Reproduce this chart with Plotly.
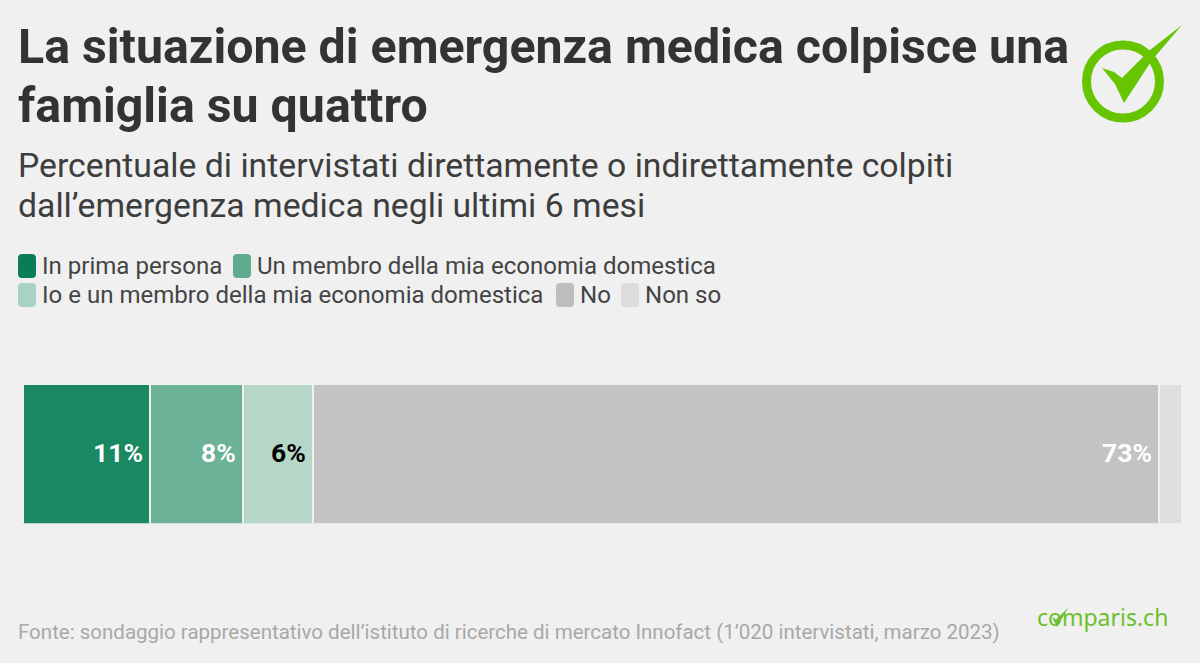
import plotly.graph_objects as go

W, H = 1200, 663
categories = ["In prima persona", "Un membro della mia economia domestica",
              "Io e un membro della mia economia domestica", "No", "Non so"]
values = [11, 8, 6, 73, 2]
bar_colors = ["#1a8860", "#6cb296", "#b6d6c8", "#c3c3c3", "#e0dfdf"]
swatch_colors = ["#0a7d55", "#5fab8e", "#a9d2c2", "#bdbdbd", "#dedddd"]
label_colors = ["#ffffff", "#ffffff", "#000000", "#ffffff", "#ffffff"]
labels = ["11%", "8%", "6%", "73%", ""]
BG = "#f0f0f0"
GREEN = "#66c400"


def px(x):
    return x / W


def py(y):
    return 1 - y / H


fig = go.Figure()
cum = 0
for c, v, col, lab, lc in zip(categories, values, bar_colors, labels, label_colors):
    fig.add_trace(go.Bar(
        y=["a"], x=[v], name=c, orientation="h",
        marker=dict(color=col, line=dict(color=BG, width=2)),
        hoverinfo="skip", showlegend=False,
    ))
    cum += v
    if lab:
        fig.add_annotation(x=cum, y="a", xref="x", yref="y", text=f"<b>{lab}</b>", showarrow=False,
                           xanchor="right", yanchor="middle", xshift=-6, yshift=1, borderpad=0,
                           font=dict(family="Roboto", size=26.5, color=lc))


def text(x, y, s, size, color, bold=False, family="Roboto", anchor="left"):
    fig.add_annotation(
        x=px(x), y=py(y), xref="paper", yref="paper", text=("<b>%s</b>" % s) if bold else s,
        showarrow=False, xanchor=anchor, yanchor="middle", align=anchor,
        font=dict(family=family, size=size, color=color), borderpad=0, borderwidth=0,
    )


text(18, 47, "La situazione di emergenza medica colpisce una", 48.3, "#333333", True)
text(18, 105, "famiglia su quattro", 48.3, "#333333", True)
text(18, 165, "Percentuale di intervistati direttamente o indirettamente colpiti", 33.75, "#3d3d3d")
text(18, 205, "dall’emergenza medica negli ultimi 6 mesi", 33.75, "#3d3d3d")
text(18, 632, "Fonte: sondaggio rappresentativo dell’istituto di ricerche di mercato Innofact (1’020 intervistati, marzo 2023)", 20.5, "#a8a8a8")
text(1168, 617, "comparis.ch", 23, "#6cc02c", family="Noto Sans", anchor="right")

# legend: swatch x-position, row y, label
legend_pos = [(18, 266), (233, 266), (18, 295), (556, 295), (621, 295)]
for (x, y), c, col in zip(legend_pos, categories, swatch_colors):
    x0, x1, y0, y1, r = x, x + 18, y - 12, y + 12, 4
    fig.add_shape(type="path", xref="paper", yref="paper", line_width=0, fillcolor=col,
                  path=(f"M {px(x0+r)} {py(y0)} L {px(x1-r)} {py(y0)} Q {px(x1)} {py(y0)} {px(x1)} {py(y0+r)} "
                        f"L {px(x1)} {py(y1-r)} Q {px(x1)} {py(y1)} {px(x1-r)} {py(y1)} "
                        f"L {px(x0+r)} {py(y1)} Q {px(x0)} {py(y1)} {px(x0)} {py(y1-r)} "
                        f"L {px(x0)} {py(y0+r)} Q {px(x0)} {py(y0)} {px(x0+r)} {py(y0)} Z"))
    text(x + 24, y, c, 24.05, "#444444")

# logo ring and tick
fig.add_shape(type="circle", xref="paper", yref="paper", x0=px(1086.5), x1=px(1159.5), y0=py(118), y1=py(45),
              line=dict(color=GREEN, width=9), fillcolor="rgba(0,0,0,0)")
tick = [(1102, 68), (1114, 72), (1122, 78), (1150, 50), (1182, 25), (1152, 60), (1124, 103), (1115, 84)]
fig.add_shape(type="path", xref="paper", yref="paper", line_width=0, fillcolor=GREEN,
              path="M " + " L ".join(f"{px(x)} {py(y)}" for x, y in tick) + " Z")
# small tick inside the "o" of the wordmark
small = [(1052, 617), (1056, 619.5), (1068, 608), (1057, 627)]
fig.add_shape(type="path", xref="paper", yref="paper", line_width=0, fillcolor="#6cc02c",
              path="M " + " L ".join(f"{px(x)} {py(y)}" for x, y in small) + " Z")

fig.update_layout(
    width=W, height=H, autosize=False, barmode="stack", bargap=0,
    margin=dict(l=0, r=0, t=0, b=0), paper_bgcolor=BG, plot_bgcolor=BG,
    xaxis=dict(domain=[px(23), px(1182)], range=[0, 100], visible=False),
    yaxis=dict(domain=[py(523.5), py(383.5)], visible=False),
)
fig.write_html("out.html", config=dict(displayModeBar=False), post_script="document.body.style.margin='0';")
